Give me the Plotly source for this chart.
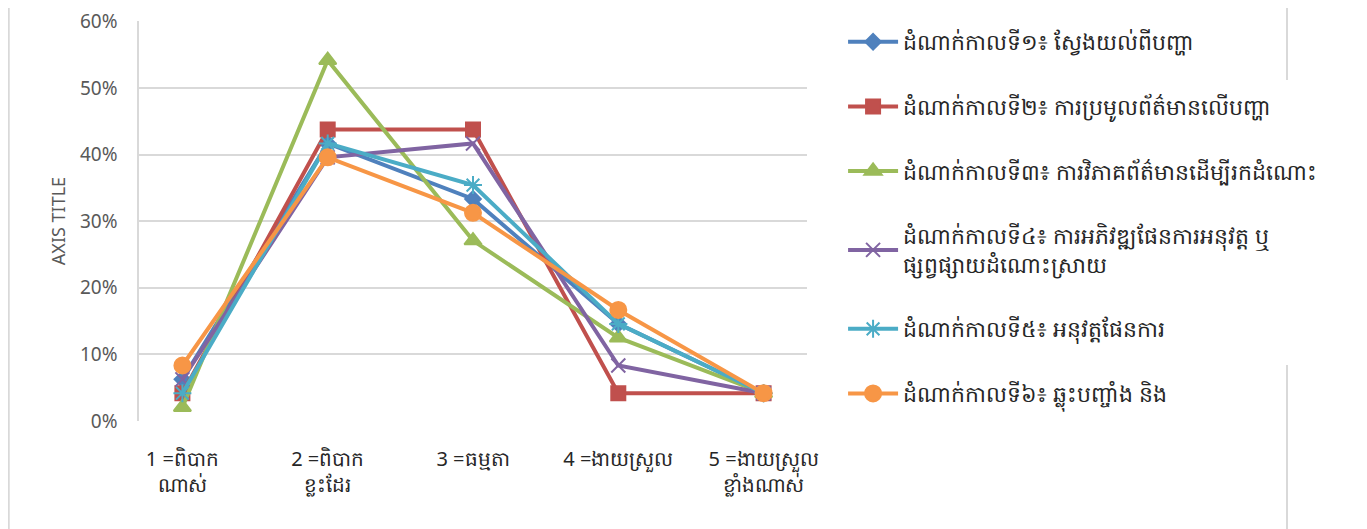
import plotly.graph_objects as go

# categories on the x axis (Khmer difficulty scale)
categories = [
    "1 =ពិបាក<br>ណាស់",
    "2 =ពិបាក<br>ខ្លះដែរ",
    "3 =ធម្មតា",
    "4 =ងាយស្រួល",
    "5 =ងាយស្រួល<br>ខ្លាំងណាស់",
]

# one list per stage (share of answers)
stage1 = [0.0625, 0.4167, 0.3333, 0.1458, 0.0417]
stage2 = [0.0417, 0.4375, 0.4375, 0.0417, 0.0417]
stage3 = [0.0208, 0.5417, 0.2708, 0.1250, 0.0417]
stage4 = [0.0625, 0.3958, 0.4167, 0.0833, 0.0417]
stage5 = [0.0417, 0.4167, 0.3542, 0.1458, 0.0417]
stage6 = [0.0833, 0.3958, 0.3125, 0.1667, 0.0417]

names = [
    "ដំណាក់កាលទី១៖ ស្វែងយល់ពីបញ្ហា",
    "ដំណាក់កាលទី២៖ ការប្រមូលព័ត៌មានលើបញ្ហា",
    "ដំណាក់កាលទី៣៖ ការវិភាគព័ត៌មានដើម្បីរកដំណោះ",
    "ដំណាក់កាលទី៤៖ ការអភិវឌ្ឍផែនការអនុវត្ត ឬ<br>ផ្សព្វផ្សាយដំណោះស្រាយ",
    "ដំណាក់កាលទី៥៖ អនុវត្តផែនការ",
    "ដំណាក់កាលទី៦៖ ឆ្លុះបញ្ចាំង និង",
]

y_ticks = [0, 0.1, 0.2, 0.3, 0.4, 0.5, 0.6]

#styling per series: colour, marker symbol, marker size
styles = [
    ("#4F81BD", "diamond", 12),
    ("#C0504D", "square", 14),
    ("#9BBB59", "triangle-up", 15),
    ("#8064A2", "x-thin-open", 14),
    ("#4BACC6", "asterisk-open", 15),
    ("#F79646", "circle", 16),
]

font = "Noto Sans, DejaVu Sans, sans-serif"

fig = go.Figure()
for i, (vals, name) in enumerate(zip([stage1, stage2, stage3, stage4, stage5, stage6], names)):
    color, symbol, size = styles[i]
    fig.add_trace(go.Scatter(
        x=categories, y=vals, name=name, mode="lines+markers",
        legendgroup="g%d" % i,
        line=dict(color=color, width=4),
        marker=dict(color=color, symbol=symbol, size=size,
                    line=dict(color=color, width=2)),
    ))

# page has an 8px body margin, so margins are 8px smaller than the target offsets
fig.update_layout(
    width=1367, height=529,
    margin=dict(l=131, r=568, t=13, b=116),
    paper_bgcolor="white", plot_bgcolor="white",
    font=dict(family=font, size=16, color="#404040"),
    showlegend=True,
    legend=dict(
        x=1.054, y=1.0, xanchor="left", yanchor="top",
        font=dict(size=22, color="#262626"),
        traceorder="grouped", tracegroupgap=33,
        itemwidth=50,
        bgcolor="rgba(255,255,255,0)",
    ),
)

fig.update_yaxes(
    range=[0, 0.6005], tickvals=y_ticks, tickformat=".0%",
    showgrid=True, gridcolor="#D9D9D9", gridwidth=1.5,
    showline=True, linecolor="#D9D9D9", linewidth=1.5,
    zeroline=False, ticks="", ticklabelstandoff=16,
    ticklabeloverflow="allow",
    automargin=False,
    tickfont=dict(size=19, color="#595959"),
    title=dict(text="AXIS TITLE", font=dict(size=18, color="#595959"), standoff=10),
)

fig.update_xaxes(
    showgrid=False, showline=False, zeroline=False, ticks="",
    automargin=False,
    tickfont=dict(size=20, color="#262626"), ticklabelstandoff=24,
)

# chart area border pieces visible in the picture
fig.add_shape(type="line", xref="paper", yref="paper", x0=-0.195, x1=-0.195, y0=-0.3, y1=1.06,
              line=dict(color="#D9D9D9", width=2))
fig.add_shape(type="line", xref="paper", yref="paper", x0=1.7186, x1=1.7186, y0=0.8525, y1=1.06,
              line=dict(color="#D9D9D9", width=2))
fig.add_shape(type="line", xref="paper", yref="paper", x0=1.7186, x1=1.7186, y0=-0.3, y1=0.14,
              line=dict(color="#D9D9D9", width=2))

fig.write_html("out.html")
